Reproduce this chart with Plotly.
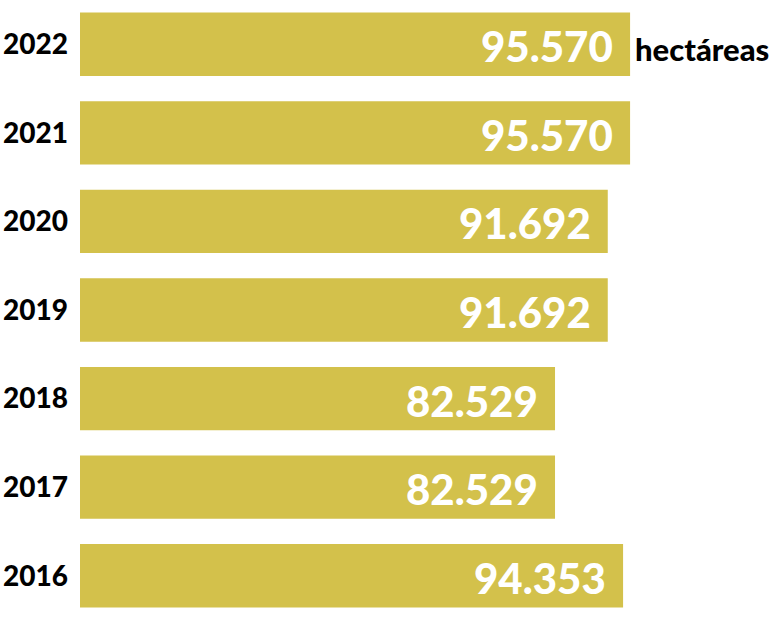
import plotly.graph_objects as go

years = ["2022", "2021", "2020", "2019", "2018", "2017", "2016"]
hectares = [95570, 95570, 91692, 91692, 82529, 82529, 94353]
unit_label = "hectáreas"

BAR_COLOR = "#d3c14b"
FONT = "Lato"

def fmt(v):
    return f"{v:,}".replace(",", ".")

order = years[::-1]  # bottom to top

fig = go.Figure()
fig.add_trace(go.Bar(
    x=hectares,
    y=years,
    orientation="h",
    marker=dict(color=BAR_COLOR, line=dict(width=0)),
    hoverinfo="skip",
))

annotations = []
for y, v in zip(years, hectares):
    annotations.append(dict(
        x=v, y=order.index(y), xref="x", yref="y",
        text=fmt(v), showarrow=False,
        xanchor="right", yanchor="middle", xshift=-15, yshift=-2,
        font=dict(family=FONT, size=42, color="white", weight=900),
    ))
annotations.append(dict(
    x=hectares[0], y=order.index(years[0]), xref="x", yref="y",
    text=unit_label, showarrow=False,
    xanchor="left", yanchor="middle", xshift=3, yshift=-5,
    font=dict(family=FONT, size=31, color="black", weight=900),
))

fig.update_layout(
    width=773, height=620,
    margin=dict(l=80, r=0, t=0, b=0),
    paper_bgcolor="white", plot_bgcolor="white",
    bargap=0.285,
    showlegend=False,
    annotations=annotations,
    xaxis=dict(range=[0, 120400], visible=False, fixedrange=True),
    yaxis=dict(
        type="category",
        categoryorder="array", categoryarray=order,
        range=[-0.5, len(years) - 0.5],
        showgrid=False, zeroline=False, showline=False, ticks="",
        ticklabelstandoff=11,
        tickfont=dict(family=FONT, size=28, color="black", weight=900),
    ),
)

fig.write_html("out.html", config={"displayModeBar": False},
               post_script="document.body.style.margin='0';")
